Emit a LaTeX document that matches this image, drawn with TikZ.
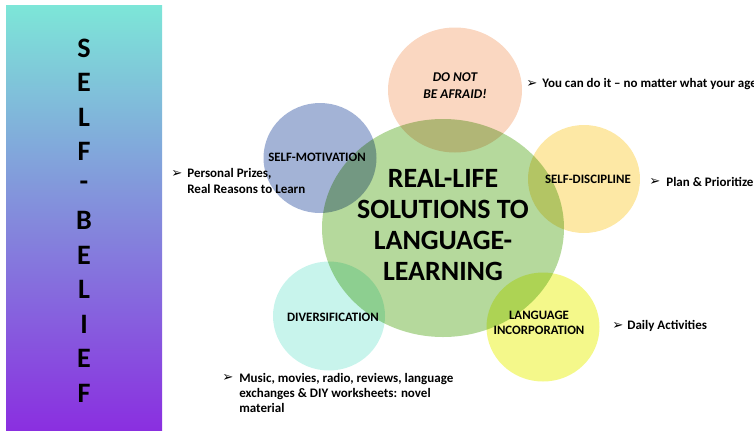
\documentclass[tikz,border=0pt]{standalone}
\usepackage{fontspec}
\setmainfont{Carlito}
\newfontfamily\symfont{DejaVu Sans}
\usetikzlibrary{shapes.geometric}

\definecolor{barTop}{HTML}{7DE6D8}
\definecolor{barMid}{HTML}{6A72E0}
\definecolor{barBot}{HTML}{8A2FE0}
\definecolor{goalGreen}{HTML}{B5D99C}
\definecolor{afraidPeach}{HTML}{FAD7C1}
\definecolor{motivBlue}{HTML}{A3B3D6}
\definecolor{discipYellow}{HTML}{FDE8A5}
\definecolor{diversCyan}{HTML}{C8F4EC}
\definecolor{incorpLime}{HTML}{F4F88A}

\def\px{0.02cm}

\begin{document}
\begin{tikzpicture}[x=0.02cm, y=-0.02cm,
  letter/.style={font=\fontsize{16}{16}\selectfont\bfseries},
  bubble/.style={ellipse, inner sep=0pt},
  tag/.style={font=\fontsize{7.3}{8.6}\selectfont\bfseries, align=center, inner sep=0pt},
  note/.style={font=\fontsize{7.4}{8.6}\selectfont\bfseries, align=left, anchor=west, inner sep=0pt},
  pointer/.style={font=\fontsize{7.5}{7.5}\selectfont\symfont, anchor=west, inner sep=0pt}]

 \useasboundingbox (0,0) rectangle (754,430);

 %side bar
 \shade[top color=barTop, middle color=barMid, bottom color=barBot] (6,5) rectangle (162,430);
 \foreach \i/\name in {0/S,1/E,2/L,3/F,4/-,5/B,6/E,7/L,8/I,9/E,10/F} {
         \node[letter] (L\i) at (84, 48+34.5*\i) {\name};
 }

 %bubbles
 \begin{scope}[blend mode=multiply]
   \node[bubble, fill=goalGreen, minimum width=242*\px, minimum height=218*\px] (goal) at (443,228) {};
   \node[bubble, fill=afraidPeach, minimum width=134*\px, minimum height=125*\px] (afraid) at (455,90) {};
   \node[bubble, fill=motivBlue, minimum width=113*\px, minimum height=110*\px] (motiv) at (320,158) {};
   \node[bubble, fill=discipYellow, minimum width=112*\px, minimum height=108*\px] (discip) at (584,179) {};
   \node[bubble, fill=diversCyan, minimum width=112*\px, minimum height=109*\px] (divers) at (329,316) {};
   \node[bubble, fill=incorpLime, minimum width=113*\px, minimum height=109*\px] (incorp) at (543,327) {};
 \end{scope}

 %labels
 \node[font=\fontsize{15.9}{17.6}\selectfont\bfseries, align=center] (goalText) at (443,225)
      {REAL-LIFE\\SOLUTIONS TO\\LANGUAGE-\\LEARNING};
 \node[tag, font=\fontsize{7.6}{9.8}\selectfont\bfseries\itshape] (afraidText) at (455,86) {DO NOT\\BE AFRAID!};
 \node[tag] (motivText) at (317,157) {SELF-MOTIVATION};
 \node[tag] (discipText) at (588,179) {SELF-DISCIPLINE};
 \node[tag] (diversText) at (333,317) {DIVERSIFICATION};
 \node[tag] (incorpText) at (539,323) {LANGUAGE\\INCORPORATION};

 %bullets
 \node[pointer] (p1) at (526,84) {➢};
 \node[note] (n1) at (542,84) {You can do it -- no matter what your age!};
 \node[pointer] (p2) at (649,182) {➢};
 \node[note] (n2) at (666,182) {Plan \& Prioritize};
 \node[pointer] (p3) at (612,326) {➢};
 \node[note] (n3) at (627,326) {Daily Activities};
 \node[pointer] (p4) at (171,174) {➢};
 \node[note] (n4) at (187,181) {Personal Prizes,\\Real Reasons to Learn};
 \node[pointer] (p5) at (222,378) {➢};
 \node[note] (n5) at (239,393) {Music, movies, radio, reviews, language\\exchanges \& DIY worksheets: novel\\material};

\end{tikzpicture}
\end{document}
